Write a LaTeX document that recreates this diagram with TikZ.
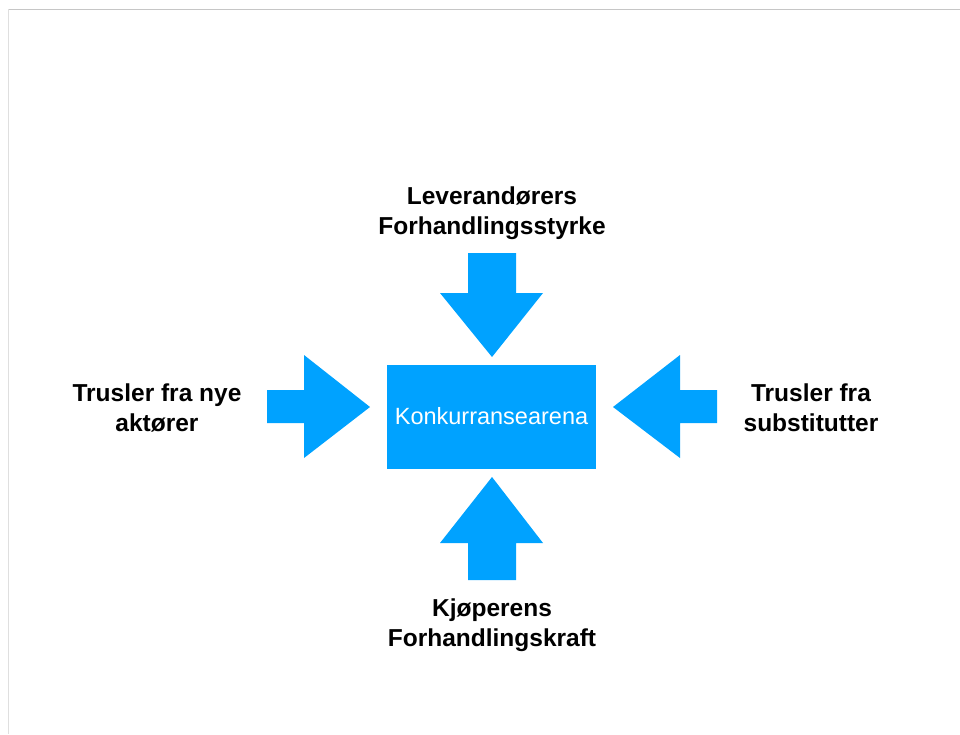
\documentclass[tikz,border=0pt]{standalone}
\usepackage{fontspec}
\setmainfont{Liberation Sans}
\usepackage{tikz}
\usetikzlibrary{positioning}

\definecolor{arenablue}{RGB}{0,162,255}

\tikzset{
    forcearrow/.style={fill=arenablue},
    forcelabel/.style={align=center, font=\fontsize{24.5}{30}\selectfont\bfseries},
}

\begin{document}
\begin{tikzpicture}[x=1pt,y=-1pt]
            \useasboundingbox (0,0) rectangle (960,734);

            % frame lines
            \draw[gray!45, line width=1pt] (8,9) -- (960,9);
            \draw[gray!25, line width=1pt] (8,9) -- (8,734);

            % centre box
            \node[fill=arenablue, minimum width=209pt, minimum height=104pt,
                  text=white, font=\fontsize{23.5}{28}\selectfont] (arena) at (491.5,416.5) {Konkurransearena};

            % arrows pointing at the box
            \fill[forcearrow] (468,253) -- (516,253) -- (516,293) -- (543,293)
                -- (492,357) -- (440,293) -- (468,293) -- cycle;
            \fill[forcearrow] (468,580) -- (516,580) -- (516,543) -- (543,543)
                -- (492,477) -- (440,543) -- (468,543) -- cycle;
            \fill[forcearrow] (267,390) -- (304,390) -- (304,355) -- (370,407)
                -- (304,458) -- (304,423) -- (267,423) -- cycle;
            \fill[forcearrow] (717,390) -- (680,390) -- (680,355) -- (613,407)
                -- (680,458) -- (680,423) -- (717,423) -- cycle;

            % labels
            \node[forcelabel] (supplier) at (492,213) {Leverandørers\\Forhandlingsstyrke};
            \node[forcelabel] (buyer) at (492,625) {Kjøperens\\Forhandlingskraft};
            \node[forcelabel] (entrant) at (157,408) {Trusler fra nye\\aktører};
            \node[forcelabel] (substitute) at (811,408) {Trusler fra\\substitutter};
        \end{tikzpicture}
\end{document}
